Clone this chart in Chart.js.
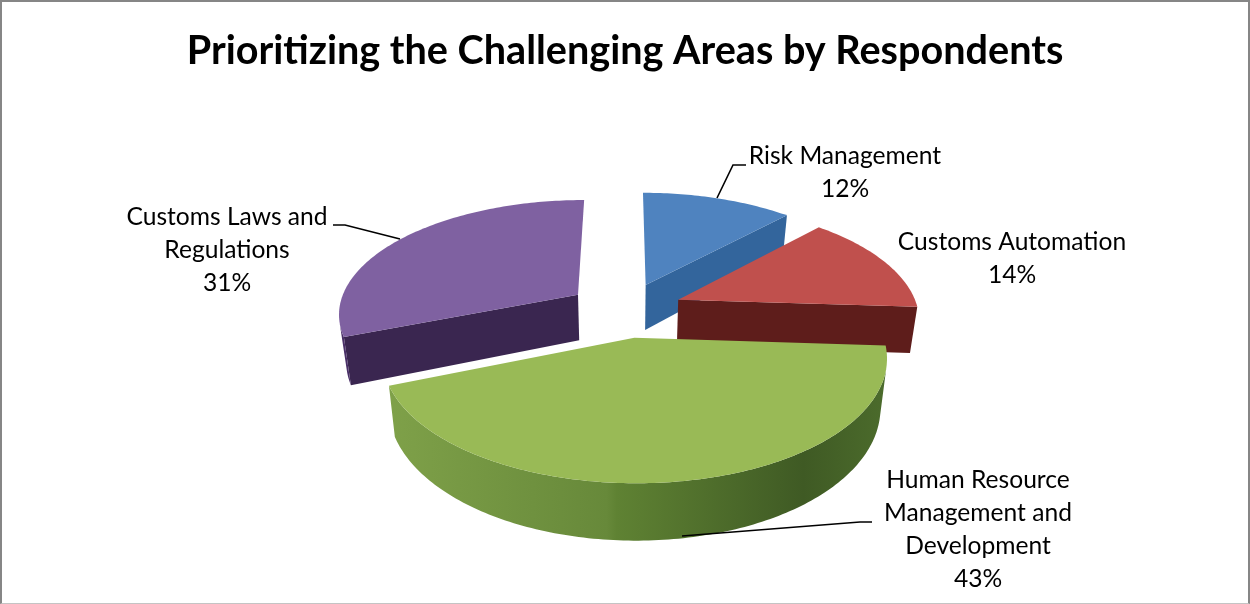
<!DOCTYPE html>
<html lang="en">
<head>
  <meta charset="UTF-8" />
  <title>Challenging Areas</title>
  <script src="https://cdn.jsdelivr.net/npm/chart.js"></script>
  <style>
    html, body { margin: 0; padding: 0; background: #fff; overflow: hidden; }
    #wrap { position: relative; width: 1250px; height: 604px; }
    #frame {
      position: absolute; inset: 0; pointer-events: none;
      border: 2px solid #868686; border-bottom: 1px solid #c4c4c4;
    }
  </style>
</head>
<body>
  <div id="wrap">
    <canvas id="pieChart"></canvas>
    <div id="frame"></div>
  </div>

  <script>
    const chartTitle = 'Prioritizing the Challenging Areas by Respondents';
    const areas = ['Risk Management', 'Customs Automation', 'Human Resource Management and Development', 'Customs Laws and Regulations'];
    const shares = [12, 14, 43, 31];

    const topColors = ['#4f83bf', '#c0504d', '#99ba56', '#7f61a1'];
    const cutColors = ['#33659c', '#5e1d1b', '#4f6b2c', '#3a2650'];
    const wallStops = [
      [[0, '#2f5c8e'], [1, '#2f5c8e']],
      [[0, '#6b2422'], [1, '#5e1d1b']],
      [[0, '#7fa149'], [0.44, '#67893a'], [0.46, '#5f8233'], [0.83, '#3f5a24'], [1, '#4c6c2c']],
      [[0, '#4a3068'], [1, '#3a2650']]
    ];

    // back to front
    const paintOrder = [3, 0, 1, 2];

    // wrapped label text, anchor of the first line and the leader line
    const labelLines = [
      ['Risk Management'],
      ['Customs Automation'],
      ['Human Resource', 'Management and', 'Development'],
      ['Customs Laws and', 'Regulations']
    ];
    const labelAnchors = [[845, 156], [1012, 242], [978, 480], [227, 217]];
    const leaders = [
      [[717, 198], [733, 165], [746, 165]],
      null,
      [[682, 536], [860, 522], [872, 522]],
      [[333, 225], [345, 225], [400, 239]]
    ];

    const HORIZON = -430;
    const PERSP = 0.000639;
    const DEPTH = 46.5;
    const SHRINK = 0.975;
    const MIN_FACE = 2000;   // thin side faces stay hidden
    const LABEL_FONT = '24.6px Lato';
    const LINE_H = 33;

    // ground plane -> screen; px to the right, pz away from the viewer
    function project(arc, px, pz) {
      const w = 1 / (1 + PERSP * pz);
      return { x: arc.x + px * w, y: HORIZON + (arc.y - HORIZON) * w, w };
    }

    function lower(arc, p) {
      return { x: arc.x + (p.x - arc.x) * SHRINK, y: p.y + DEPTH * p.w };
    }

    function quadArea(pts) {
      let sum = 0;
      pts.forEach((p, i) => {
        const q = pts[(i + 1) % pts.length];
        sum += p.x * q.y - q.x * p.y;
      });
      return sum;
    }

    function fillPoly(ctx, pts, style) {
      ctx.beginPath();
      pts.forEach((p, i) => i ? ctx.lineTo(p.x, p.y) : ctx.moveTo(p.x, p.y));
      ctx.closePath();
      ctx.fillStyle = style;
      ctx.fill();
    }

    function drawSlice(ctx, arc, index) {
      const mid = (arc.startAngle + arc.endAngle) / 2;
      const off = arc.options.offset;
      const ox = Math.cos(mid) * off;
      const oy = Math.sin(mid) * off;
      const r = arc.outerRadius;

      const apex = project(arc, ox, -oy);
      const rim = [];
      const steps = Math.ceil((arc.endAngle - arc.startAngle) / (Math.PI / 180));
      for (let i = 0; i <= steps; i++) {
        const a = arc.startAngle + (arc.endAngle - arc.startAngle) * i / steps;
        rim.push(project(arc, ox + Math.cos(a) * r, -(oy + Math.sin(a) * r)));
      }

      const grad = ctx.createLinearGradient(arc.x - r, 0, arc.x + r * 1.1, 0);
      wallStops[index].forEach(s => grad.addColorStop(s[0], s[1]));

      // radial cut faces
      const faces = [[apex, rim[0]], [rim[steps], apex]];
      faces.forEach(f => {
        const quad = [f[0], f[1], lower(arc, f[1]), lower(arc, f[0])];
        if (quadArea(quad) < -MIN_FACE) fillPoly(ctx, quad, cutColors[index]);
      });

      // curved outer wall: the run of rim points that face the viewer
      const visible = [];
      for (let i = 0; i < steps; i++) {
        const quad = [rim[i], rim[i + 1], lower(arc, rim[i + 1]), lower(arc, rim[i])];
        if (quadArea(quad) < 0) visible.push(i);
      }
      if (visible.length) {
        const run = rim.slice(visible[0], visible[visible.length - 1] + 2);
        fillPoly(ctx, run.concat(run.map(p => lower(arc, p)).reverse()), grad);
      }

      fillPoly(ctx, [apex].concat(rim), arc.options.backgroundColor);
    }

    const tiltedPie = {
      id: 'tiltedPie',
      beforeDatasetsDraw(chart) {
        const ctx = chart.ctx;
        const arcs = chart.getDatasetMeta(0).data;
        ctx.save();
        paintOrder.forEach(i => drawSlice(ctx, arcs[i], i));
        ctx.restore();
        return false;
      },
      afterDraw(chart) {
        const ctx = chart.ctx;
        ctx.save();
        ctx.strokeStyle = '#000';
        ctx.lineWidth = 1.6;
        leaders.forEach(line => {
          if (!line) return;
          ctx.beginPath();
          line.forEach((p, i) => i ? ctx.lineTo(p[0], p[1]) : ctx.moveTo(p[0], p[1]));
          ctx.stroke();
        });

        ctx.fillStyle = '#000';
        ctx.font = LABEL_FONT;
        ctx.textAlign = 'center';
        ctx.textBaseline = 'middle';
        areas.forEach((name, i) => {
          const lines = labelLines[i].concat(shares[i] + '%');
          lines.forEach((txt, j) => {
            ctx.fillText(txt, labelAnchors[i][0], labelAnchors[i][1] + j * LINE_H);
          });
        });
        ctx.restore();
      }
    };

    new Chart(document.getElementById('pieChart'), {
      type: 'pie',
      data: {
        labels: areas,
        datasets: [{
          data: shares,
          backgroundColor: topColors,
          borderWidth: 0,
          offset: 58,
          radius: 240
        }]
      },
      options: {
        responsive: true,
        maintainAspectRatio: false,
        animation: false,
        layout: { padding: { bottom: 65 } },
        plugins: {
          legend: { display: false },
          tooltip: { enabled: false },
          title: {
            display: true,
            text: chartTitle,
            color: '#000',
            font: { family: 'Lato', size: 39.6, weight: 'bold' },
            padding: { top: 27, bottom: 6 }
          }
        }
      },
      plugins: [tiltedPie]
    });
  </script>
</body>
</html>
